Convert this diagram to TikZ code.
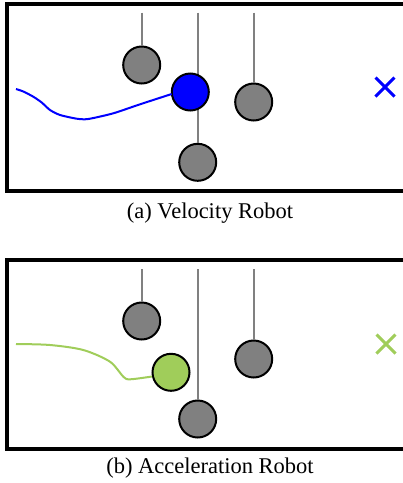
\documentclass[tikz,border=0pt]{standalone}
\usepackage{fontspec}
\setmainfont{Liberation Serif}
\definecolor{obsgray}{RGB}{128,128,128}
\definecolor{rodgray}{RGB}{128,128,128}
\definecolor{accgreen}{RGB}{160,205,90}
\begin{document}
\begin{tikzpicture}[x=1pt,y=-1pt,
  frame/.style={draw=black,line width=3.2pt},
  obstacle/.style={circle,draw=black,fill=obsgray,line width=2pt,minimum size=37pt,inner sep=0pt},
  robot/.style={circle,draw=black,line width=2pt,minimum size=37pt,inner sep=0pt},
  rod/.style={draw=rodgray,line width=1.7pt},
  goal/.style={line width=3pt},
  traj/.style={line width=2pt},
  caption/.style={font=\fontsize{22.5}{26}\selectfont,inner sep=0pt}]
\useasboundingbox (0,0) rectangle (403,483);
\clip (0,0) rectangle (403,483);
% ---------- (a) ----------
\draw[frame] (7,4) rectangle (420,191);
\coordinate (a1t) at (141.7,12.7);
\coordinate (a2t) at (197.7,12.7);
\coordinate (a3t) at (253.7,12.7);
\node[obstacle] (a1) at (141.7,65) {};
\node[obstacle] (a3) at (253.7,102) {};
\node[obstacle] (a4) at (197.7,162.3) {};
\draw[rod] (a1t) -- (a1.north);
\draw[rod] (a3t) -- (a3.north);
\draw[rod] (a2t) -- (a4.north);
\node[robot,fill=blue] (ra) at (190.3,92) {};
\draw[traj,blue] plot[smooth,tension=0.4] coordinates {(16,89) (23.3,91.5) (33.3,96.7) (41.7,102.5) (50,110) (60,115) (76.7,118.7) (88.3,119) (113.3,113.3) (140,104.3) (171.7,94)};
\draw[goal,blue] (375.5,77.5) -- (394.5,96.5) (375.5,96.5) -- (394.5,77.5);
\node[caption] (capa) at (210,213) {(a) Velocity Robot};
% ---------- (b) ----------
\draw[frame] (7,260) rectangle (420,449);
\coordinate (b1t) at (141.7,269);
\coordinate (b2t) at (197.7,269);
\coordinate (b3t) at (253.7,269);
\node[obstacle] (b1) at (141.7,321) {};
\node[obstacle] (b3) at (253.7,359) {};
\node[obstacle] (b4) at (197.7,419) {};
\draw[rod] (b1t) -- (b1.north);
\draw[rod] (b3t) -- (b3.north);
\draw[rod] (b2t) -- (b4.north);
\node[robot,fill=accgreen] (rb) at (171,372.3) {};
\draw[traj,accgreen] plot[smooth,tension=0.5] coordinates {(16,344) (50,345) (83.3,350) (110,361.7) (123.3,376.7) (130,379.3) (152,376.5)};
\draw[goal,accgreen] (376.5,334.5) -- (395.5,353.5) (376.5,353.5) -- (395.5,334.5);
\node[caption] (capb) at (210,468) {(b) Acceleration Robot};
\end{tikzpicture}
\end{document}
